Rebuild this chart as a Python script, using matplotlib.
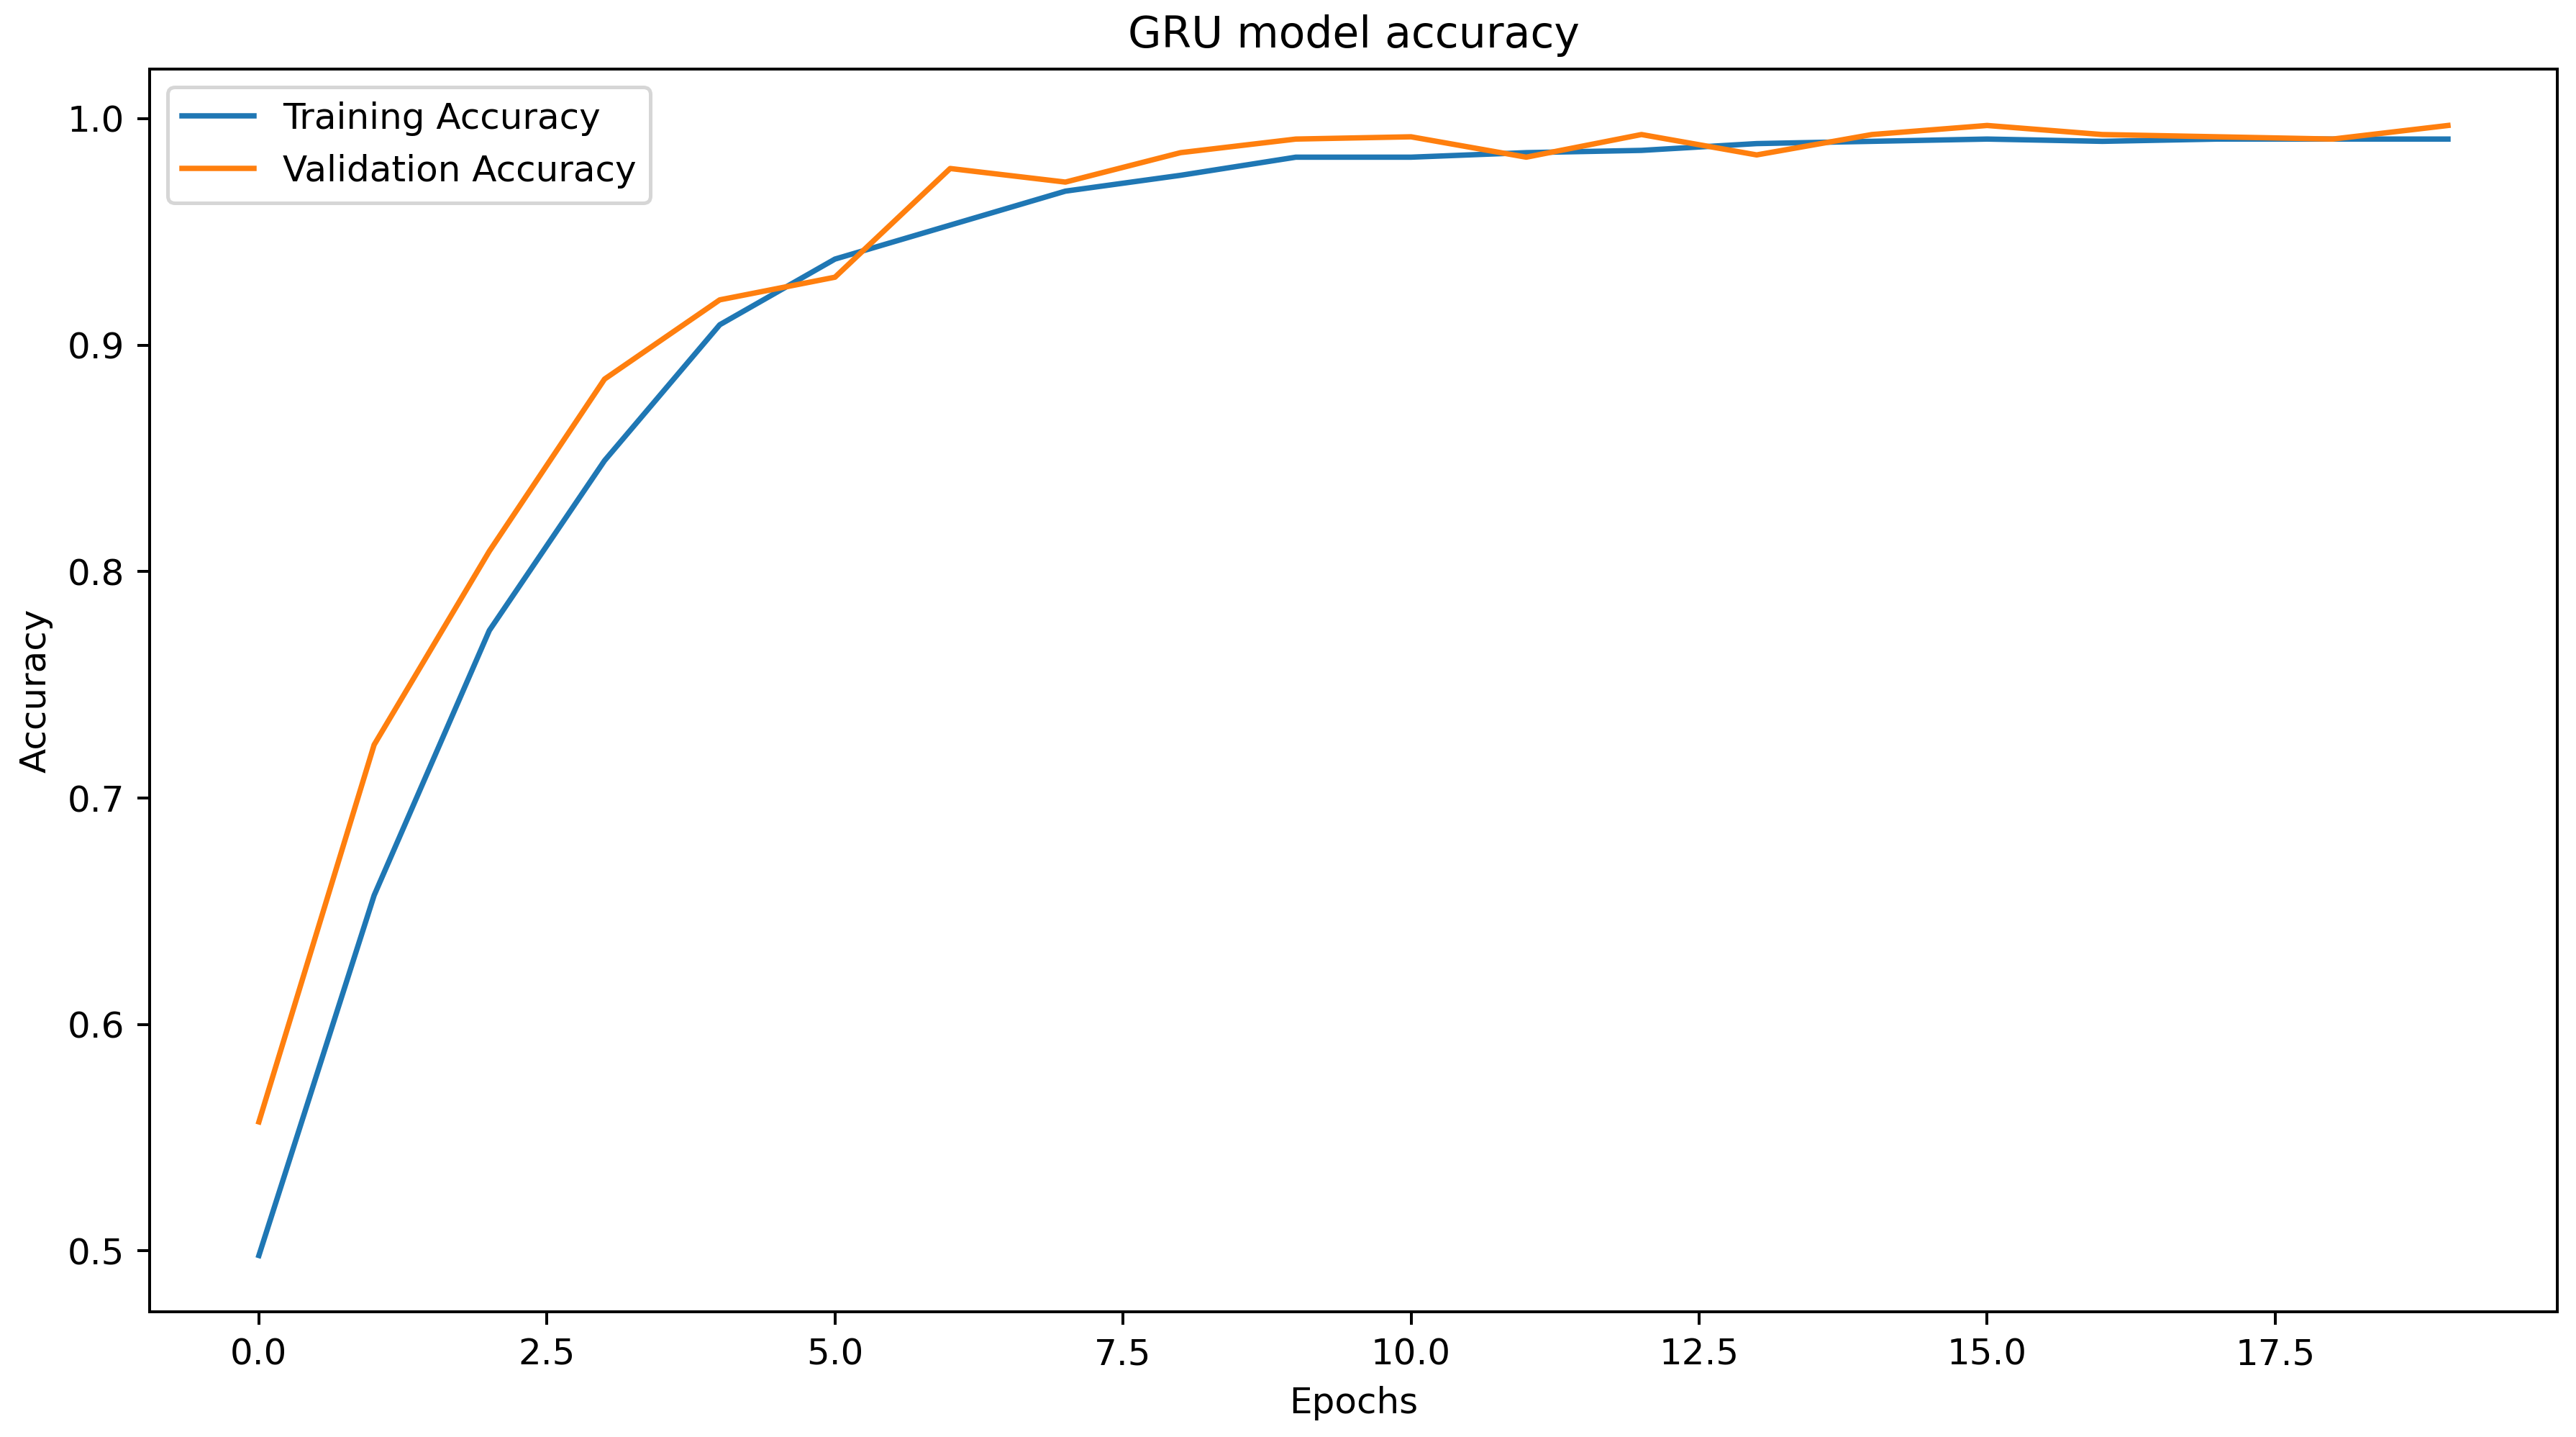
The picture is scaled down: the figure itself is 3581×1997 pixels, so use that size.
import matplotlib
matplotlib.use("Agg")
import matplotlib.pyplot as plt

epochs = list(range(20))
train_acc = [0.498, 0.657, 0.774, 0.849, 0.909, 0.938, 0.953, 0.968, 0.975, 0.983,
             0.983, 0.985, 0.986, 0.989, 0.990, 0.991, 0.990, 0.991, 0.991, 0.991]
val_acc = [0.557, 0.7235, 0.809, 0.885, 0.920, 0.930, 0.978, 0.972, 0.985, 0.991,
           0.992, 0.983, 0.993, 0.984, 0.993, 0.997, 0.993, 0.992, 0.991, 0.997]

DPI = 360
fig, ax = plt.subplots(figsize=(3582 / DPI, 1997 / DPI), dpi=DPI)
fig.subplots_adjust(left=0.058, right=0.9925, bottom=0.087, top=0.952)
ax.plot(epochs, train_acc, label="Training Accuracy")
ax.plot(epochs, val_acc, label="Validation Accuracy")
ax.set_title("GRU model accuracy")
ax.set_xlabel("Epochs")
ax.set_ylabel("Accuracy")
ax.legend(loc="upper left")
fig.savefig("out.png", dpi=DPI)
